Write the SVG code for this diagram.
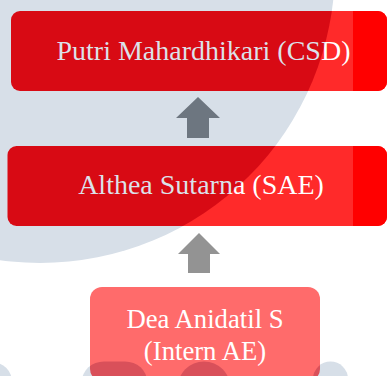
<svg xmlns="http://www.w3.org/2000/svg" width="387" height="376" viewBox="0 0 387 376">
  <defs>
    <pattern id="wmText" patternUnits="userSpaceOnUse" x="0" y="0" width="387" height="376">
      <rect width="387" height="376" fill="#ffffff"/>
      <circle cx="40" cy="-32" r="295" fill="#dbe2ea"/>
    </pattern>
    <pattern id="wmBox" patternUnits="userSpaceOnUse" x="0" y="0" width="387" height="376">
      <rect width="387" height="376" fill="#ff2a2a"/>
      <circle cx="40" cy="-32" r="295" fill="#d80a14"/>
    </pattern>
    <pattern id="wmBox3" patternUnits="userSpaceOnUse" x="0" y="0" width="387" height="376">
      <rect width="387" height="376" fill="#ff6b6b"/>
      <rect x="82" y="361.5" width="65" height="40" rx="22" fill="#d9505a"/>
      <circle cx="204" cy="388" r="26.5" fill="#d9505a"/>
      <circle cx="330.5" cy="379" r="17.5" fill="#d9505a"/>
    </pattern>
  </defs>
  <style>
    .wm { fill: #d7dfe8; }
    .lbl { font-family: "Liberation Serif", "Times New Roman", serif; font-size: 28px; text-anchor: middle; fill: url(#wmText); }
    .lbl3 { font-size: 26.7px; fill: #ffffff; }
    .strip { fill: #ff0000; }
  </style>

  <rect width="387" height="376" fill="#ffffff"/>
  <g id="watermark">
    <circle class="wm" cx="40" cy="-32" r="295"/>
    <circle class="wm" cx="-8" cy="382" r="20"/>
    <rect class="wm" x="82" y="361.5" width="65" height="40" rx="22"/>
    <circle class="wm" cx="204" cy="388" r="26.5"/>
    <circle class="wm" cx="330.5" cy="379" r="17.5"/>
  </g>

  <g id="node-csd">
    <rect x="11" y="11" width="376" height="80" rx="9" fill="url(#wmBox)"/>
    <path class="strip" d="M353,11 H378 A9,9 0 0 1 387,20 V82 A9,9 0 0 1 378,91 H353 Z"/>
    <text class="lbl" x="203.5" y="60">Putri Mahardhikari (CSD)</text>
  </g>

  <g id="node-sae">
    <rect x="7.5" y="146" width="379.5" height="80" rx="9" fill="url(#wmBox)"/>
    <path class="strip" d="M353,146 H378 A9,9 0 0 1 387,155 V217 A9,9 0 0 1 378,226 H353 Z"/>
    <text class="lbl" x="201" y="194">Althea Sutarna (SAE)</text>
  </g>

  <g id="node-intern">
    <rect x="90" y="287" width="230" height="94" rx="12" fill="url(#wmBox3)"/>
    <text class="lbl lbl3" x="205" y="328">Dea Anidatil S</text>
    <text class="lbl lbl3" x="205" y="360">(Intern AE)</text>
  </g>

  <g id="connectors">
    <polygon points="198,97 220,118 209,118 209,138 187,138 187,118 176,118" fill="#6d7680"/>
    <polygon points="199,233 220,254 210,254 210,273 188,273 188,254 178,254" fill="#939393"/>
  </g>
</svg>
